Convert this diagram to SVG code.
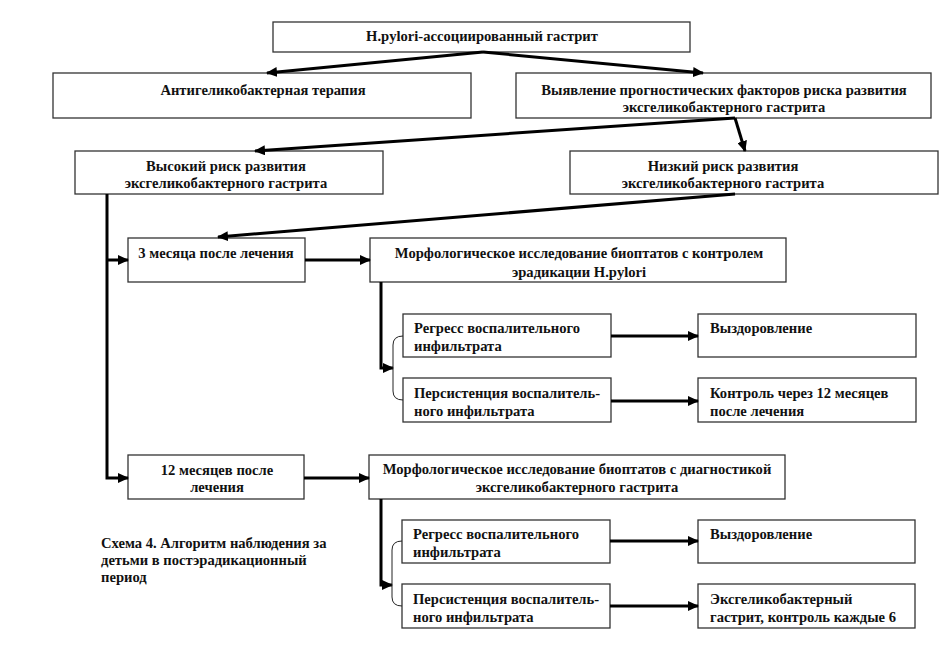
<svg xmlns="http://www.w3.org/2000/svg" width="945" height="650" viewBox="0 0 945 650">
<style>
.box{fill:#fff;stroke:#333;stroke-width:1.3}
text{font-family:"Liberation Serif","Times New Roman",serif;font-weight:bold;font-size:14.6px;fill:#111}
.c{text-anchor:middle}
.con{fill:none;stroke:#000;stroke-width:3}
.thin{fill:none;stroke:#222;stroke-width:1}
</style>
<defs>
<marker id="ah" markerUnits="userSpaceOnUse" markerWidth="12" markerHeight="10" refX="10" refY="5" orient="auto">
<path d="M0,0 L11,5 L0,10 Z" fill="#000"/>
</marker>
</defs>
<rect width="945" height="650" fill="#fff"/>
<g id="n-top"><rect class="box" x="273" y="22" width="417" height="30"/><text class="c" x="482" y="41">H.pylori-ассоциированный гастрит</text></g>
<g id="n-anti"><rect class="box" x="53" y="73" width="418" height="45"/><text class="c" x="263" y="95">Антигеликобактерная терапия</text></g>
<g id="n-vyyav"><rect class="box" x="516" y="73" width="415" height="45"/><text class="c" x="724" y="95">Выявление прогностических факторов риска развития</text><text class="c" x="724" y="112">эксгеликобактерного гастрита</text></g>
<g id="n-high"><rect class="box" x="75" y="151" width="308" height="43"/><text class="c" x="226" y="171">Высокий риск развития</text><text class="c" x="226" y="188">эксгеликобактерного гастрита</text></g>
<g id="n-low"><rect class="box" x="570" y="151" width="368" height="43"/><text class="c" x="723" y="171">Низкий риск развития</text><text class="c" x="723" y="188">эксгеликобактерного гастрита</text></g>
<g id="n-3m"><rect class="box" x="128" y="238" width="177" height="44"/><text class="c" x="216" y="258">3 месяца после лечения</text></g>
<g id="n-morph1"><rect class="box" x="370" y="238" width="416" height="44"/><text class="c" x="579" y="258">Морфологическое исследование биоптатов с контролем</text><text class="c" x="579" y="277">эрадикации H.pylori</text></g>
<g id="n-reg1"><rect class="box" x="403" y="314" width="208" height="43"/><text x="414" y="333">Регресс воспалительного</text><text x="414" y="351">инфильтрата</text></g>
<g id="n-per1"><rect class="box" x="403" y="378" width="208" height="44"/><text x="414" y="398">Персистенция воспалитель-</text><text x="414" y="416">ного инфильтрата</text></g>
<g id="n-vyz1"><rect class="box" x="698" y="314" width="218" height="43"/><text x="710" y="333">Выздоровление</text></g>
<g id="n-ctrl"><rect class="box" x="698" y="378" width="218" height="44"/><text x="710" y="398">Контроль через 12 месяцев</text><text x="710" y="416">после лечения</text></g>
<g id="n-12m"><rect class="box" x="128" y="455" width="176" height="44"/><text class="c" x="217" y="475">12 месяцев после</text><text class="c" x="217" y="492">лечения</text></g>
<g id="n-morph2"><rect class="box" x="369" y="455" width="416" height="44"/><text class="c" x="577" y="474">Морфологическое исследование биоптатов с диагностикой</text><text class="c" x="577" y="492">эксгеликобактерного гастрита</text></g>
<g id="n-reg2"><rect class="box" x="402" y="520" width="208" height="43"/><text x="413" y="539">Регресс воспалительного</text><text x="413" y="557">инфильтрата</text></g>
<g id="n-per2"><rect class="box" x="402" y="584" width="208" height="44"/><text x="413" y="604">Персистенция воспалитель-</text><text x="413" y="622">ного инфильтрата</text></g>
<g id="n-vyz2"><rect class="box" x="698" y="520" width="217" height="43"/><text x="710" y="539">Выздоровление</text></g>
<g id="n-eks"><rect class="box" x="698" y="584" width="217" height="44"/><text x="710" y="604">Эксгеликобактерный</text><text x="710" y="622">гастрит, контроль каждые 6</text></g>
<g id="caption"><text x="101" y="548">Схема 4. Алгоритм наблюдения за</text><text x="101" y="565">детьми в постэрадикационный</text><text x="101" y="582">период</text></g>
<g id="connectors">
<path class="con" d="M483,52 L267,73" marker-end="url(#ah)"/>
<path class="con" d="M483,52 L703,73" marker-end="url(#ah)"/>
<path class="con" d="M735,118 L255,151" marker-end="url(#ah)"/>
<path class="con" d="M735,118 L745,151" marker-end="url(#ah)"/>
<path class="con" d="M735,194 L218,237" marker-end="url(#ah)"/>
<path class="con" d="M107,194 L107,478 L128,478" marker-end="url(#ah)"/>
<path class="con" d="M107,260 L128,260" marker-end="url(#ah)"/>
<path class="con" d="M305,260 L370,260" marker-end="url(#ah)"/>
<path class="con" d="M304,478 L369,478" marker-end="url(#ah)"/>
<path class="con" d="M381,282 L381,368 L393,368" marker-end="url(#ah)"/>
<path class="con" d="M381,499 L381,585 L392,585" marker-end="url(#ah)"/>
<path class="con" d="M611,336 L698,336" marker-end="url(#ah)"/>
<path class="con" d="M611,401 L698,401" marker-end="url(#ah)"/>
<path class="con" d="M610,541 L698,541" marker-end="url(#ah)"/>
<path class="con" d="M610,606 L698,606" marker-end="url(#ah)"/>
<path class="thin" d="M403,336 Q393,336 393,345 L393,391 Q393,400 403,400"/>
<path class="thin" d="M402,541 Q392,541 392,550 L392,597 Q392,606 402,606"/>
</g>
</svg>
